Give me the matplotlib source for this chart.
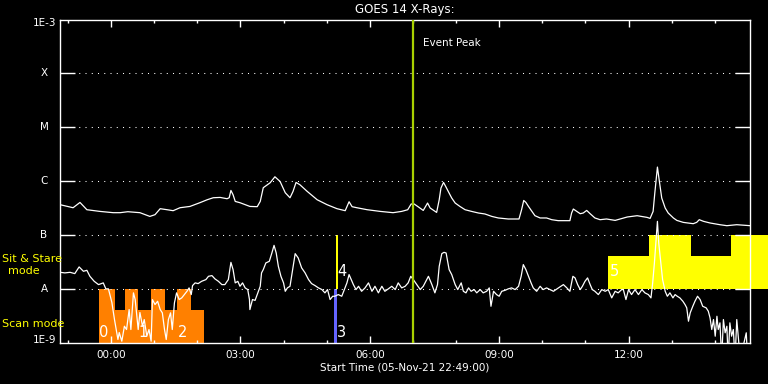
import numpy as np
import matplotlib
matplotlib.use("Agg")
import matplotlib.pyplot as plt

# GOES 14 X-ray flux, hours after 06-Nov-21 00:00, log10(W/m^2)
long_t = [-1.18, -0.88, -0.72, -0.56, -0.26, 0.05, 0.21, 0.39, 0.67, 0.90, 1.02, 1.14, 1.30,
          1.44, 1.60, 1.83, 2.06, 2.23, 2.37, 2.53, 2.69, 2.74, 2.78, 2.83, 2.88, 2.99, 3.22,
          3.39, 3.46, 3.53, 3.69, 3.80, 3.92, 4.04, 4.15, 4.22, 4.29, 4.38, 4.55, 4.78, 5.01,
          5.24, 5.43, 5.52, 5.59, 5.70, 5.94, 6.24, 6.54, 6.74, 6.88, 6.96, 7.03, 7.13, 7.24,
          7.34, 7.40, 7.55, 7.61, 7.65, 7.71, 7.76, 7.82, 7.90, 7.98, 8.09, 8.21, 8.36, 8.52,
          8.67, 8.83, 8.98, 9.21, 9.46, 9.52, 9.57, 9.62, 9.68, 9.76, 9.83, 9.95, 10.10, 10.22,
          10.37, 10.64, 10.68, 10.72, 10.80, 10.88, 10.95, 11.03, 11.11, 11.22, 11.34, 11.49,
          11.69, 11.97, 12.20, 12.43, 12.50, 12.57, 12.61, 12.67, 12.71, 12.77, 12.85, 12.92,
          13.04, 13.12, 13.27, 13.50, 13.58, 13.64, 13.74, 13.89, 14.12, 14.28, 14.51, 14.82]
long_logf = [-6.435, -6.491, -6.393, -6.528, -6.559, -6.583, -6.583, -6.565, -6.583, -6.652,
             -6.620, -6.509, -6.528, -6.546, -6.491, -6.467, -6.398, -6.343, -6.306, -6.300,
             -6.324, -6.306, -6.170, -6.250, -6.374, -6.398, -6.467, -6.472, -6.374, -6.120,
             -6.028, -5.917, -6.004, -6.213, -6.306, -6.189, -6.022, -6.065, -6.189, -6.343,
             -6.435, -6.509, -6.546, -6.380, -6.472, -6.491, -6.528, -6.559, -6.583, -6.559,
             -6.528, -6.422, -6.422, -6.478, -6.541, -6.404, -6.496, -6.578, -6.343, -6.126,
             -6.022, -6.096, -6.189, -6.311, -6.404, -6.467, -6.528, -6.559, -6.589, -6.607,
             -6.652, -6.681, -6.700, -6.700, -6.528, -6.356, -6.393, -6.467, -6.559, -6.639,
             -6.681, -6.681, -6.713, -6.731, -6.731, -6.589, -6.515, -6.559, -6.602, -6.589,
             -6.541, -6.602, -6.681, -6.713, -6.700, -6.726, -6.663, -6.639, -6.670, -6.689,
             -6.559, -6.213, -5.737, -5.972, -6.311, -6.496, -6.589, -6.681, -6.726, -6.763,
             -6.787, -6.763, -6.713, -6.744, -6.774, -6.806, -6.824, -6.806, -6.824]

short_t = [-1.18, -1.07, -0.95, -0.84, -0.74, -0.64, -0.56, -0.49, -0.39, -0.29, -0.18, -0.12,
           -0.06, 0.02, 0.08, 0.12, 0.16, 0.19, 0.25, 0.31, 0.36, 0.42, 0.46, 0.52, 0.56, 0.60,
           0.63, 0.67, 0.73, 0.77, 0.83, 0.88, 0.93, 0.96, 1.02, 1.08, 1.14, 1.19, 1.24, 1.28,
           1.33, 1.38, 1.42, 1.47, 1.52, 1.58, 1.64, 1.70, 1.76, 1.81, 1.86, 1.89, 1.95, 2.02,
           2.10, 2.20, 2.26, 2.34, 2.41, 2.49, 2.57, 2.64, 2.72, 2.78, 2.83, 2.88, 2.94, 2.99,
           3.05, 3.11, 3.17, 3.21, 3.22, 3.28, 3.34, 3.39, 3.46, 3.49, 3.53, 3.59, 3.67, 3.73,
           3.78, 3.83, 3.88, 3.94, 4.00, 4.04, 4.09, 4.15, 4.21, 4.27, 4.34, 4.42, 4.50, 4.58,
           4.65, 4.73, 4.81, 4.89, 4.96, 5.02, 5.08, 5.14, 5.19, 5.27, 5.35, 5.41, 5.47, 5.52,
           5.57, 5.62, 5.68, 5.74, 5.81, 5.89, 5.97, 6.05, 6.12, 6.20, 6.28, 6.35, 6.43, 6.51,
           6.59, 6.66, 6.74, 6.82, 6.89, 6.95, 7.01, 7.09, 7.17, 7.24, 7.30, 7.36, 7.44, 7.51,
           7.57, 7.61, 7.67, 7.72, 7.77, 7.84, 7.90, 7.98, 8.04, 8.12, 8.17, 8.23, 8.29, 8.35,
           8.42, 8.48, 8.56, 8.63, 8.71, 8.77, 8.81, 8.87, 8.94, 9.00, 9.06, 9.14, 9.21, 9.29,
           9.37, 9.45, 9.51, 9.56, 9.62, 9.68, 9.74, 9.79, 9.87, 9.95, 10.02, 10.10, 10.18,
           10.26, 10.34, 10.41, 10.49, 10.57, 10.64, 10.71, 10.76, 10.82, 10.88, 10.93, 10.99,
           11.05, 11.11, 11.16, 11.22, 11.30, 11.38, 11.46, 11.53, 11.61, 11.69, 11.76, 11.84,
           11.88, 11.94, 12.00, 12.07, 12.15, 12.23, 12.31, 12.38, 12.46, 12.52, 12.56, 12.60,
           12.64, 12.67, 12.70, 12.75, 12.79, 12.85, 12.90, 12.96, 13.03, 13.08, 13.13, 13.19,
           13.26, 13.31, 13.35, 13.39, 13.43, 13.49, 13.54, 13.60, 13.66, 13.72, 13.80, 13.85,
           13.89, 13.93, 13.97, 14.01, 14.05, 14.08, 14.12, 14.16, 14.20, 14.24, 14.28, 14.31,
           14.35, 14.39, 14.43, 14.47, 14.51, 14.55, 14.59, 14.73, 14.76]
short_logf = [-7.689, -7.700, -7.689, -7.713, -7.589, -7.670, -7.652, -7.763, -7.856, -7.917,
              -7.885, -7.996, -7.996, -8.250, -8.565, -8.750, -8.935, -8.806, -8.967, -8.689,
              -8.750, -8.380, -8.750, -8.070, -8.194, -8.504, -8.750, -8.435, -8.689, -8.565,
              -8.874, -8.750, -8.967, -8.194, -8.287, -8.226, -8.380, -8.441, -8.750, -8.935,
              -8.565, -8.441, -8.750, -8.256, -8.070, -8.194, -8.163, -8.102, -8.041, -7.978,
              -8.102, -7.935, -7.885, -7.898, -7.856, -7.824, -7.763, -7.750, -7.811, -7.856,
              -7.917, -7.917, -7.824, -7.504, -7.639, -7.885, -7.856, -7.948, -7.885, -7.978,
              -8.009, -8.194, -8.380, -8.194, -8.210, -8.102, -7.948, -7.700, -7.639, -7.515,
              -7.485, -7.330, -7.189, -7.330, -7.578, -7.763, -7.885, -8.041, -7.978, -7.948,
              -7.639, -7.343, -7.422, -7.607, -7.700, -7.824, -7.898, -7.935, -7.978, -8.009,
              -8.070, -8.009, -8.194, -8.133, -8.133, -8.102, -8.133, -8.009, -7.885, -7.731,
              -7.824, -7.917, -8.009, -7.948, -8.041, -7.978, -7.885, -8.041, -7.948, -8.070,
              -7.948, -8.041, -7.996, -7.948, -8.009, -7.885, -7.978, -7.948, -7.885, -7.763,
              -7.824, -7.917, -8.009, -7.948, -7.856, -7.763, -7.917, -8.070, -7.917, -7.578,
              -7.343, -7.319, -7.330, -7.639, -7.731, -7.917, -8.009, -7.885, -8.041, -8.070,
              -7.978, -8.041, -8.009, -8.070, -8.009, -8.070, -8.041, -7.978, -8.319, -8.041,
              -8.102, -8.133, -8.041, -8.022, -7.996, -7.978, -8.009, -7.948, -7.763, -7.546,
              -7.639, -7.763, -7.885, -7.978, -8.041, -7.948, -8.009, -7.978, -8.009, -8.041,
              -7.996, -7.959, -7.917, -7.978, -8.041, -7.763, -7.793, -7.917, -8.009, -7.948,
              -7.856, -7.793, -7.917, -8.009, -8.041, -8.102, -8.009, -8.041, -8.009, -8.163,
              -8.041, -8.070, -8.009, -8.009, -8.194, -8.009, -8.102, -8.009, -8.102, -8.009,
              -8.070, -8.102, -8.163, -7.885, -7.515, -7.083, -6.744, -7.144, -7.515, -7.824,
              -8.041, -8.133, -8.070, -8.163, -8.102, -8.133, -8.163, -8.226, -8.287, -8.348,
              -8.596, -8.441, -8.319, -8.226, -8.133, -8.194, -8.319, -8.348, -8.411, -8.533,
              -8.750, -8.565, -8.874, -8.504, -8.750, -8.626, -9.300, -8.565, -8.811, -8.689,
              -9.300, -8.626, -8.874, -8.750, -9.300, -8.565, -8.935, -9.300, -8.811, -9.300]

# observing modes (step profiles, log10 levels)
scan_edges = [-0.278, 0.093, 0.325, 0.619, 0.928, 1.252, 1.530, 1.848, 2.157]
scan_tops = [-8.0, -8.39, -8.0, -8.39, -8.0, -8.39, -8.0, -8.39]
stare_edges = [11.532, 12.482, 13.449, 14.377, 15.235]
stare_tops = [-7.39, -7.0, -7.39, -7.0]
obs3_span = [5.171, 5.247]
obs4_span = [5.217, 5.264]
obs_labels = ['0', '1', '2', '3', '4', '5']
obs_label_t = [-0.27, 0.63, 1.54, 5.23, 5.25, 11.56]
obs_label_logf = [-8.81, -8.81, -8.81, -8.81, -7.68, -7.67]
event_peak = 6.996

xtick_hours = [0, 3, 6, 9, 12]
xtick_labels = ['00:00', '03:00', '06:00', '09:00', '12:00']
ylevels = [-3, -4, -5, -6, -7, -8, -9]
ylabels = ['1E-3', 'X', 'M', 'C', 'B', 'A', '1E-9']

plt.rcParams['font.family'] = 'DejaVu Sans'
fig = plt.figure(figsize=(7.68, 3.84), dpi=100, facecolor='black')
ax = fig.add_axes([60/768, 41/384, 690/768, 323.5/384])
ax.set_facecolor('black')
ax.set_yscale('log')
ax.set_xlim(-1.1833, 14.8167)
ax.set_ylim(1e-9, 1e-3)

orange = '#ff8000'
yellow = '#ffff00'

# mode bars
def step_fill(edges, tops, bottom, color):
    xs, ys = [], []
    for i in range(len(tops)):
        xs += [edges[i], edges[i + 1]]
        ys += [10.0 ** tops[i]] * 2
    p = ax.fill_between(xs, 10.0 ** bottom, ys, color=color, lw=0, zorder=1)
    p.set_clip_on(False)

step_fill(scan_edges, scan_tops, -9.0, orange)
step_fill(stare_edges, stare_tops, -8.0, yellow)
ax.fill_between(obs3_span, 1e-9, 1e-8, color='#6464ff', lw=0, zorder=1)
ax.fill_between(obs4_span, 1e-8, 1e-7, color=yellow, lw=0, zorder=1)

# dotted level lines
for lv in ylevels[1:-1]:
    ax.axhline(10.0 ** lv, color='white', lw=0.75, ls=(0, (1, 5)), zorder=2)

ax.axvline(event_peak, color='#a8d000', lw=1.6, zorder=4)
ax.text(7.235, 10 ** -3.435, 'Event Peak', color='white', fontsize=7.5,
        ha='left', va='center', zorder=5)

ax.plot(long_t, 10.0 ** np.array(long_logf), color='white', lw=0.9, zorder=3)
ax.plot(short_t, 10.0 ** np.array(short_logf), color='white', lw=0.9, zorder=3)

for lab, t, lf in zip(obs_labels, obs_label_t, obs_label_logf):
    ax.text(t, 10 ** lf, lab, color='white', fontsize=10.5, ha='left', va='center', zorder=5)

# axes styling
for sp in ax.spines.values():
    sp.set_color('white')
    sp.set_linewidth(1.0)
ax.set_yticks([10.0 ** lv for lv in ylevels[1:-1]])
ax.set_yticklabels([])
ax.yaxis.set_minor_locator(matplotlib.ticker.NullLocator())
ax.tick_params(axis='y', which='major', direction='in', length=10.8, width=1.0,
               color='white', left=True, right=True)
ax.set_xticks(xtick_hours)
ax.set_xticklabels(xtick_labels)
ax.set_xticks(range(-1, 15), minor=True)
ax.tick_params(axis='x', which='major', direction='in', length=5, width=1.0,
               color='white', labelcolor='white', labelsize=7.5, top=True, bottom=True, pad=5)
ax.tick_params(axis='x', which='minor', direction='in', length=2.5, width=1.0,
               color='white', top=True, bottom=True)

for lv, lab in zip(ylevels, ylabels):
    if lab.startswith('1E'):
        ax.annotate(lab, (0, 10.0 ** lv), xycoords=('axes fraction', 'data'),
                    xytext=(-2.5, -2.3 if lv == -3 else 2), textcoords='offset points',
                    color='white', fontsize=7.5, ha='right', va='center')
    else:
        ax.annotate(lab, (0, 10.0 ** lv), xycoords=('axes fraction', 'data'),
                    xytext=(-11.5, 0), textcoords='offset points',
                    color='white', fontsize=7.5, ha='center', va='center')

fig.text(2/768, 1 - 259/384, 'Sit & Stare', color=yellow, fontsize=8, ha='left', va='center')
fig.text(24/768, 1 - 271.5/384, 'mode', color=yellow, fontsize=8, ha='center', va='center')
fig.text(2/768, 1 - 324/384, 'Scan mode', color=yellow, fontsize=8, ha='left', va='center')

fig.text(405/768, 1 - 10/384, 'GOES 14 X-Rays:', color='white', fontsize=8.5,
         ha='center', va='center')
fig.text(405/768, 1 - 368/384, 'Start Time (05-Nov-21 22:49:00)', color='white',
         fontsize=7.5, ha='center', va='center')

fig.savefig('out.png', dpi=100, facecolor='black')
